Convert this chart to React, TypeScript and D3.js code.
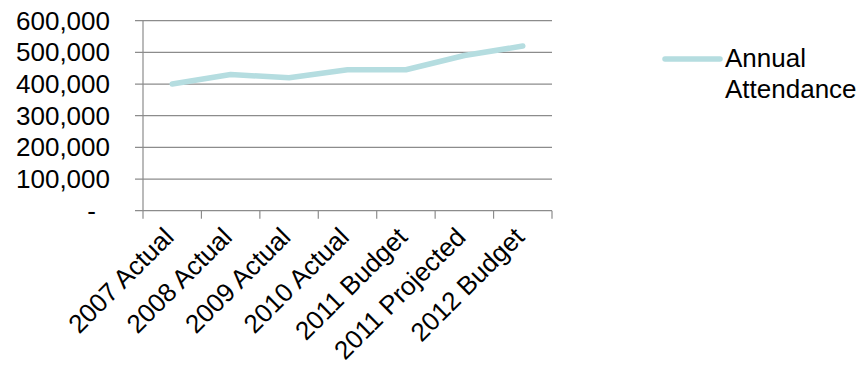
import React from "react";
import * as d3 from "d3";

const categories = ["2007 Actual", "2008 Actual", "2009 Actual", "2010 Actual", "2011 Budget", "2011 Projected", "2012 Budget"];
const attendance = [400000, 430000, 420000, 445000, 445000, 490000, 520000];
const yTicks = [0, 100000, 200000, 300000, 400000, 500000, 600000];
const seriesName = ["Annual", "Attendance"];

const W = 867, H = 371;
const left = 143, right = 552, top = 20.7, bottom = 210.7;
const FONT = "'Liberation Sans', Arial, sans-serif";
const FS = 26;
const LINE = "#B5DDE0";
const GRID = "#8c8c8c";

export default function App() {
  const x = d3.scaleBand<string>().domain(categories).range([left, right]);
  const y = d3.scaleLinear().domain([0, 600000]).range([bottom, top]);
  const fmt = (v: number) => (v === 0 ? "-" : d3.format(",")(v));
  const line = d3.line<number>()
    .x((_, i) => (x(categories[i]) as number) + x.bandwidth() / 2)
    .y((d) => y(d));
  const boundaries = d3.range(categories.length + 1).map((i) => left + i * x.bandwidth());

  return (
    <svg width={W} height={H} style={{ position: "absolute", left: 0, top: 0, background: "#fff" }}>
      {yTicks.map((t) => (
        <line key={"g" + t} x1={left - 8} x2={right} y1={y(t)} y2={y(t)} stroke={GRID} strokeWidth={1.2} />
      ))}
      <line x1={left} x2={left} y1={top} y2={bottom} stroke={GRID} strokeWidth={1.2} />
      {boundaries.map((b, i) => (
        <line key={"t" + i} x1={b} x2={b} y1={bottom} y2={bottom + 8} stroke={GRID} strokeWidth={1.2} />
      ))}
      {yTicks.map((t) => (
        <text
          key={"l" + t}
          x={t === 0 ? 96 : 110}
          y={y(t)}
          dy="0.35em"
          textAnchor="end"
          fontFamily={FONT}
          fontSize={FS}
          fill="#000"
        >
          {fmt(t)}
        </text>
      ))}
      {categories.map((c) => {
        const cx = (x(c) as number) + x.bandwidth() / 2;
        return (
          <text
            key={c}
            transform={`translate(${cx + 3},${bottom + 28}) rotate(-45)`}
            textAnchor="end"
            fontFamily={FONT}
            fontSize={FS}
            fill="#000"
          >
            {c}
          </text>
        );
      })}
      <path d={line(attendance) || ""} fill="none" stroke={LINE} strokeWidth={5.5} strokeLinecap="round" strokeLinejoin="round" />
      <line x1={665} x2={720} y1={59} y2={59} stroke={LINE} strokeWidth={5.5} strokeLinecap="round" />
      {seriesName.map((s, i) => (
        <text key={s} x={725} y={67 + i * 31} fontFamily={FONT} fontSize={FS} fill="#000">
          {s}
        </text>
      ))}
    </svg>
  );
}
